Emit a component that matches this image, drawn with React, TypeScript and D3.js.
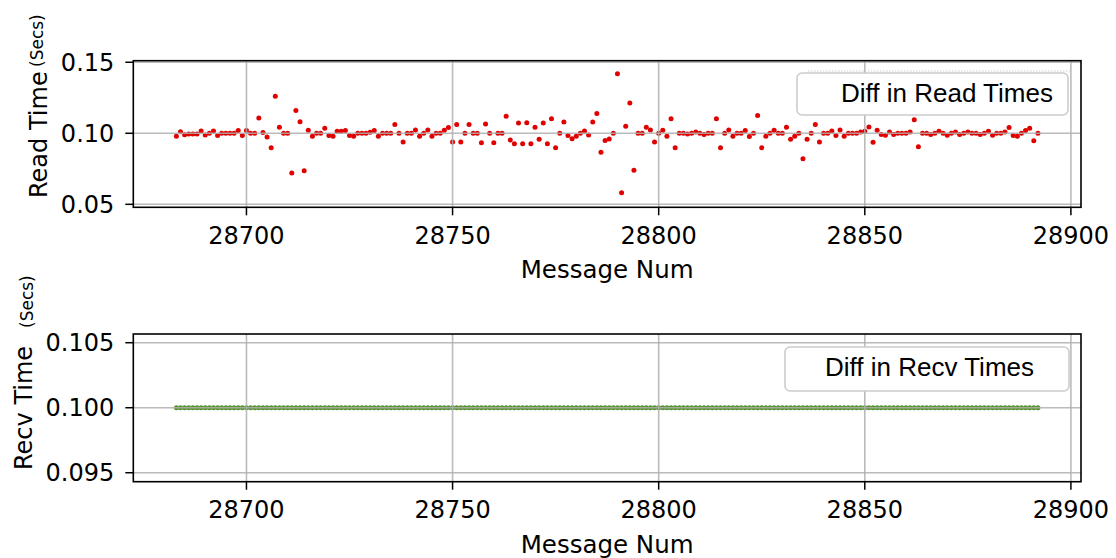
import React from "react";
import * as d3 from "d3";

// Message numbers run consecutively from FIRST_MSG
const FIRST_MSG = 28683;

// Time between consecutive reads (seconds), one per message
const readDiffs = [
  0.0979, 0.101, 0.099, 0.0995, 0.0995, 0.0995, 0.1016, 0.0988, 0.1, 0.1016,
  0.0984, 0.1, 0.1, 0.1, 0.1, 0.1019, 0.0984, 0.1019, 0.1, 0.1,
  0.1108, 0.1005, 0.0974, 0.0899, 0.126, 0.1042, 0.1, 0.1, 0.072, 0.116,
  0.1082, 0.0737, 0.1021, 0.0979, 0.1, 0.1, 0.1035, 0.0984, 0.0979, 0.1014,
  0.1014, 0.1019, 0.0984, 0.0979, 0.1, 0.1, 0.1, 0.1007, 0.1019, 0.0979,
  0.1, 0.1, 0.1, 0.1061, 0.1, 0.0939, 0.1, 0.1, 0.1024, 0.0979,
  0.1, 0.1024, 0.0979, 0.1, 0.1, 0.1021, 0.104, 0.0939, 0.1061, 0.0939,
  0.1, 0.1061, 0.1, 0.1, 0.0934, 0.1066, 0.1, 0.0934, 0.1, 0.1,
  0.112, 0.0953, 0.0927, 0.1073, 0.0927, 0.1075, 0.0927, 0.1042, 0.0958, 0.1073,
  0.0927, 0.1103, 0.0899, 0.1, 0.108, 0.0984, 0.0962, 0.098, 0.1, 0.1016,
  0.0988, 0.108, 0.114, 0.0866, 0.095, 0.096, 0.1, 0.142, 0.0582, 0.105,
  0.1214, 0.0739, 0.1, 0.1, 0.1042, 0.1024, 0.0939, 0.1, 0.1021, 0.0979,
  0.1103, 0.0899, 0.1, 0.1, 0.0995, 0.1, 0.1009, 0.1, 0.0991, 0.1,
  0.1, 0.1103, 0.0899, 0.1, 0.1024, 0.098, 0.1, 0.1, 0.1019, 0.0977,
  0.1, 0.1125, 0.0899, 0.098, 0.1, 0.1021, 0.1, 0.1, 0.1042, 0.0958,
  0.0979, 0.1, 0.0821, 0.0958, 0.1, 0.1061, 0.0939, 0.1, 0.1, 0.1016,
  0.0984, 0.1024, 0.0979, 0.1, 0.1, 0.1, 0.1009, 0.1014, 0.1045, 0.0937,
  0.1021, 0.0991, 0.0986, 0.1009, 0.0991, 0.1, 0.1, 0.1, 0.1009, 0.1096,
  0.0906, 0.1, 0.1, 0.0991, 0.1, 0.1014, 0.1, 0.0986, 0.1, 0.1009,
  0.0991, 0.1, 0.1009, 0.1, 0.1, 0.0991, 0.1, 0.1014, 0.0986, 0.1,
  0.1, 0.1009, 0.104, 0.0984, 0.0979, 0.1, 0.1019, 0.1035, 0.0948, 0.1,
];

// Time between consecutive receives (seconds), one per message
const recvDiffs = [
  0.1, 0.1, 0.1, 0.1, 0.1, 0.1, 0.1, 0.1, 0.1, 0.1,
  0.1, 0.1, 0.1, 0.1, 0.1, 0.1, 0.1, 0.1, 0.1, 0.1,
  0.1, 0.1, 0.1, 0.1, 0.1, 0.1, 0.1, 0.1, 0.1, 0.1,
  0.1, 0.1, 0.1, 0.1, 0.1, 0.1, 0.1, 0.1, 0.1, 0.1,
  0.1, 0.1, 0.1, 0.1, 0.1, 0.1, 0.1, 0.1, 0.1, 0.1,
  0.1, 0.1, 0.1, 0.1, 0.1, 0.1, 0.1, 0.1, 0.1, 0.1,
  0.1, 0.1, 0.1, 0.1, 0.1, 0.1, 0.1, 0.1, 0.1, 0.1,
  0.1, 0.1, 0.1, 0.1, 0.1, 0.1, 0.1, 0.1, 0.1, 0.1,
  0.1, 0.1, 0.1, 0.1, 0.1, 0.1, 0.1, 0.1, 0.1, 0.1,
  0.1, 0.1, 0.1, 0.1, 0.1, 0.1, 0.1, 0.1, 0.1, 0.1,
  0.1, 0.1, 0.1, 0.1, 0.1, 0.1, 0.1, 0.1, 0.1, 0.1,
  0.1, 0.1, 0.1, 0.1, 0.1, 0.1, 0.1, 0.1, 0.1, 0.1,
  0.1, 0.1, 0.1, 0.1, 0.1, 0.1, 0.1, 0.1, 0.1, 0.1,
  0.1, 0.1, 0.1, 0.1, 0.1, 0.1, 0.1, 0.1, 0.1, 0.1,
  0.1, 0.1, 0.1, 0.1, 0.1, 0.1, 0.1, 0.1, 0.1, 0.1,
  0.1, 0.1, 0.1, 0.1, 0.1, 0.1, 0.1, 0.1, 0.1, 0.1,
  0.1, 0.1, 0.1, 0.1, 0.1, 0.1, 0.1, 0.1, 0.1, 0.1,
  0.1, 0.1, 0.1, 0.1, 0.1, 0.1, 0.1, 0.1, 0.1, 0.1,
  0.1, 0.1, 0.1, 0.1, 0.1, 0.1, 0.1, 0.1, 0.1, 0.1,
  0.1, 0.1, 0.1, 0.1, 0.1, 0.1, 0.1, 0.1, 0.1, 0.1,
  0.1, 0.1, 0.1, 0.1, 0.1, 0.1, 0.1, 0.1, 0.1, 0.1,
];

const xTicks = [28700, 28750, 28800, 28850, 28900];
const readTicks = [0.05, 0.1, 0.15];
const readTickLabels = ["0.05", "0.10", "0.15"];
const recvTicks = [0.095, 0.1, 0.105];
const recvTickLabels = ["0.095", "0.100", "0.105"];

const W = 1116;
const H = 558;
const LEFT = 133.3;
const RIGHT = 1081;
const TICK_FONT = "'DejaVu Sans', sans-serif";
const LEGEND_FONT = "'Liberation Sans', Arial, sans-serif";
const GRID = "#b0b0b0";

const xDomain: [number, number] = [28672.55, 28902.45];

type PanelProps = {
  top: number;
  bottom: number;
  yDomain: [number, number];
  yTicks: number[];
  yTickLabels: string[];
  values: number[];
  color: string;
  radius: number;
};

function Panel({ top, bottom, yDomain, yTicks, yTickLabels, values, color, radius }: PanelProps) {
  const x = d3.scaleLinear().domain(xDomain).range([LEFT, RIGHT]);
  const y = d3.scaleLinear().domain(yDomain).range([bottom, top]);
  return (
    <g>
      {values.map((v, i) => (
        <circle key={i} cx={x(FIRST_MSG + i)} cy={y(v)} r={radius} fill={color} />
      ))}
      {xTicks.map((t) => (
        <line key={"gx" + t} x1={x(t)} x2={x(t)} y1={top} y2={bottom} stroke={GRID} strokeWidth={1.6} opacity={0.85} />
      ))}
      {yTicks.map((t) => (
        <line key={"gy" + t} x1={LEFT} x2={RIGHT} y1={y(t)} y2={y(t)} stroke={GRID} strokeWidth={1.6} opacity={0.85} />
      ))}
      <rect x={LEFT} y={top} width={RIGHT - LEFT} height={bottom - top} fill="none" stroke="#000" strokeWidth={1.6} />
      {xTicks.map((t) => (
        <g key={"tx" + t}>
          <line x1={x(t)} x2={x(t)} y1={bottom} y2={bottom + 8} stroke="#000" strokeWidth={1.5} />
          <text x={x(t)} y={bottom + 36.7} textAnchor="middle" fontFamily={TICK_FONT} fontSize={24} fill="#000">
            {t}
          </text>
        </g>
      ))}
      {yTicks.map((t, i) => (
        <g key={"ty" + t}>
          <line x1={LEFT - 8} x2={LEFT} y1={y(t)} y2={y(t)} stroke="#000" strokeWidth={1.5} />
          <text x={LEFT - 19} y={y(t)} dy="0.36em" textAnchor="end" fontFamily={TICK_FONT} fontSize={24} fill="#000">
            {yTickLabels[i]}
          </text>
        </g>
      ))}
      <text x={(LEFT + RIGHT) / 2} y={bottom + 71} textAnchor="middle" fontFamily={TICK_FONT} fontSize={24.5} fill="#000">
        Message Num
      </text>
    </g>
  );
}

function Legend({ x, y, w, h, tx, ty, label }: { x: number; y: number; w: number; h: number; tx: number; ty: number; label: string }) {
  return (
    <g>
      <rect x={x} y={y} width={w} height={h} rx={5} fill="#fff" stroke="#cccccc" strokeWidth={1.6} />
      <text x={tx} y={ty} fontFamily={LEGEND_FONT} fontSize={26} fill="#000">
        {label}
      </text>
    </g>
  );
}

export default function App() {
  return (
    <svg width={W} height={H} style={{ position: "absolute", left: 0, top: 0, background: "#fff" }}>
      <rect x={0} y={0} width={W} height={H} fill="#fff" />
      <Panel
        top={60.7}
        bottom={207.3}
        yDomain={[0.0479, 0.1511]}
        yTicks={readTicks}
        yTickLabels={readTickLabels}
        values={readDiffs}
        color="#e00000"
        radius={2.5}
      />
      <Panel
        top={334}
        bottom={481.7}
        yDomain={[0.09431, 0.10567]}
        yTicks={recvTicks}
        yTickLabels={recvTickLabels}
        values={recvDiffs}
        color="#55932f"
        radius={2.5}
      />
      <line x1={808} x2={1070} y1={71} y2={71} stroke="#d0d0d0" strokeWidth={1} strokeDasharray="1.5,1.5" />
      <Legend x={797} y={73} w={271} h={42} tx={841} ty={102} label="Diff in Read Times" />
      <Legend x={785} y={347} w={284} h={44} tx={825} ty={376} label="Diff in Recv Times" />

      <text transform="translate(46.5,198) rotate(-90)" fontFamily={TICK_FONT} fontSize={24} fill="#000">
        Read Time
      </text>
      <text transform="translate(43,67) rotate(-90)" fontFamily={TICK_FONT} fontSize={17} fill="#000">
        (Secs)
      </text>
      <text transform="translate(31.7,470) rotate(-90)" fontFamily={TICK_FONT} fontSize={24} fill="#000">
        Recv Time
      </text>
      <text transform="translate(33,328) rotate(-90)" fontFamily={TICK_FONT} fontSize={17} fill="#000">
        (Secs)
      </text>
    </svg>
  );
}
